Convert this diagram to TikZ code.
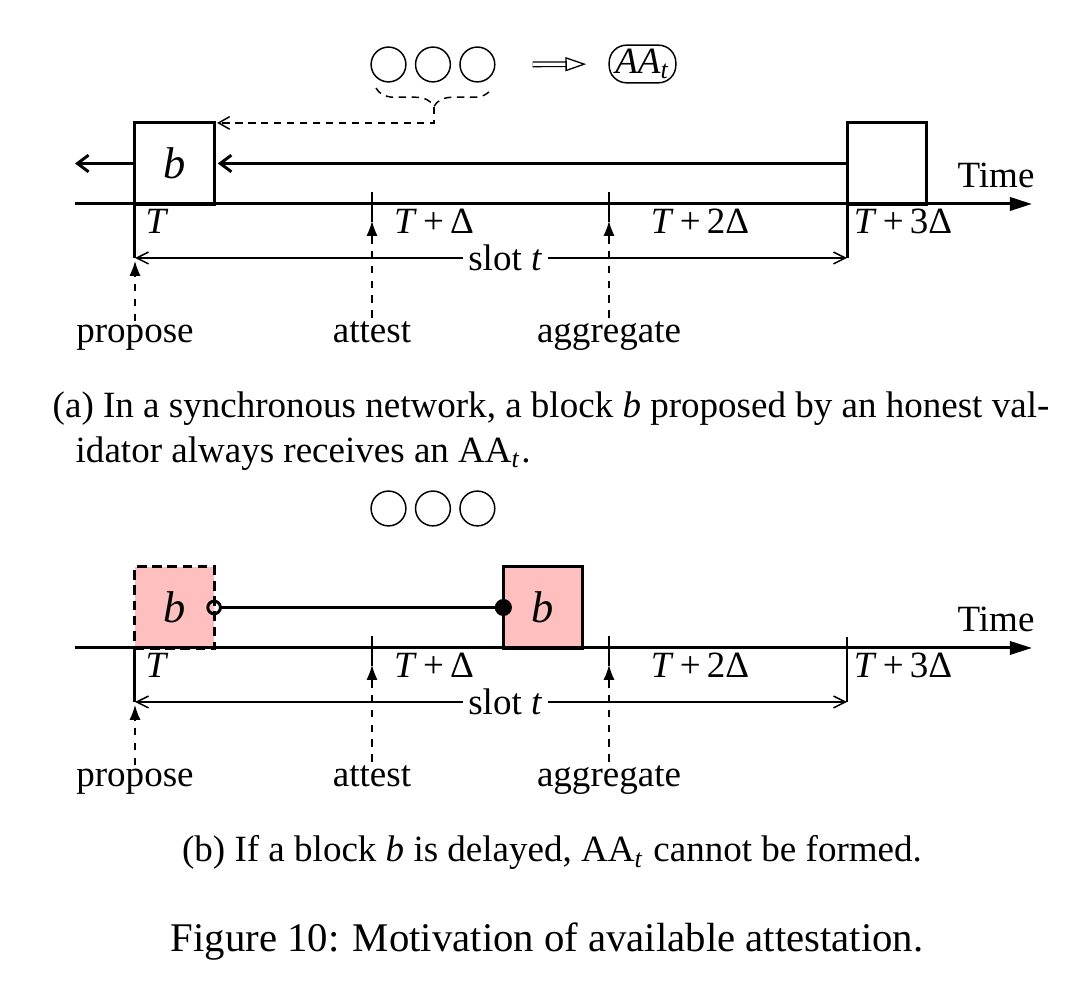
\documentclass[tikz,border=0pt]{standalone}
\usepackage{fontspec}
\setmainfont{Liberation Serif}
\usetikzlibrary{arrows.meta, positioning, decorations.pathreplacing}
\definecolor{BlockPink}{HTML}{FFBFBF}

\begin{document}
\begin{tikzpicture}[
    x=0.27pt, y=-0.27pt,
    blk/.style={draw, line width=0.8pt, minimum width=21.4pt, minimum height=21.9pt, inner sep=0pt, outer sep=0pt, font=\large\itshape},
    ghost/.style={blk, dash pattern=on 2.6pt off 1.5pt, fill=BlockPink},
    vote/.style={draw, circle, line width=0.4pt, minimum size=9.4pt, inner sep=0pt},
    aggr/.style={draw, rounded corners=4.7pt, line width=0.4pt, minimum width=18pt, minimum height=9.6pt, inner sep=1pt, font=\itshape},
    axis/.style={line width=0.8pt, -{Triangle[length=6pt, width=3.6pt]}},
    fwd/.style={line width=0.8pt, -{Straight Barb[length=3pt, width=4.5pt]}},
    tick/.style={line width=0.8pt},
    slot/.style={line width=0.4pt, {Straight Barb[length=3.2pt, width=3.2pt]}-{Straight Barb[length=3.2pt, width=3.2pt]}},
    duty/.style={line width=0.4pt, dash pattern=on 2pt off 2pt, -{Latex[length=4pt, width=3pt]}},
    notify/.style={line width=0.4pt, dash pattern=on 2pt off 1.5pt, -{Straight Barb[length=3pt, width=3.4pt]}},
    implies/.style={double, double distance=0.9pt, line width=0.35pt, -{Triangle[open, length=5.6pt, width=3.8pt]}},
    delay/.style={line width=0.8pt, {Circle[open, length=4.2pt]}-{Circle[length=4.6pt]}, shorten <=-2.1pt, shorten >=-2.3pt},
    lbl/.style={anchor=base, inner sep=1pt},
    captxt/.style={inner sep=0pt, align=left}
]
\useasboundingbox (0,0) rectangle (1080,981);

% (a) synchronous network
\node[vote] (va1) at (388.5,64.5) {};
\node[vote, right=2.2pt of va1] (va2) {};
\node[vote, right=2.2pt of va2] (va3) {};
\node[aggr] (aa) at (642.5,64) {AA\textsubscript{t}};
\draw[implies, shorten <=10pt, shorten >=6pt] (va3) -- (aa);
\draw[line width=0.4pt, dash pattern=on 2pt off 1.5pt, decorate, decoration={brace, mirror, amplitude=5pt}] (376,88) -- (492,88);
\coordinate (tipA) at (434,107);

\node[blk] (blkA) at (174.5,163.5) {b};
\node[blk] (nextA) at (887,163.5) {};
\coordinate (outA) at (75,163.5);
\draw[notify, shorten >=0.8pt] (tipA) |- (blkA.north east);
\draw[fwd, shorten >=1pt] (nextA.west) -- (blkA.east);
\draw[fwd] (blkA.west) -- (outA);

\coordinate (startA) at (75,204);
\coordinate (endA) at (1032,204);
\draw[axis] (startA) -- (endA);
\node[lbl] (timeA) at (996,188) {Time};

\coordinate (slotLa) at (135,258);
\coordinate (slotRa) at (847,258);
\draw[tick] (blkA.south west) -- (blkA.south west |- slotLa);
\draw[tick] (nextA.south west) -- (nextA.south west |- slotRa);
\draw[tick] (372,192) -- (372,222);
\draw[tick] (609,192) -- (609,222);
\draw[slot] (slotLa) -- node[pos=0.52, fill=white, inner sep=1.5pt] (slotA) {slot \textit{t}} (slotRa);

\node[lbl] at (157,234) {\textit{T}};
\node[lbl] at (434,234) {\textit{T}\,+\,Δ};
\node[lbl] at (700,234) {\textit{T}\,+\,2Δ};
\node[lbl] at (903,234) {\textit{T}\,+\,3Δ};

\node[lbl] (propA) at (135,343) {propose};
\node[lbl] (attA) at (372,343) {attest};
\node[lbl] (aggA) at (609,343) {aggregate};
\draw[duty] (propA) -- (135,261);
\draw[duty] (attA) -- (372,221);
\draw[duty] (aggA) -- (609,221);

\node[captxt, anchor=west] (capA) at (52,431) {(a) In a synchronous network, a block \textit{b} proposed by an honest val-\\\hspace*{6.2pt}idator always receives an AA\textsubscript{\textit{t}}.};

% (b) delayed block
\begin{scope}[shift={(0,444)}]
\node[vote] (vb1) at (388.5,64.5) {};
\node[vote, right=2.2pt of vb1] (vb2) {};
\node[vote, right=2.2pt of vb2] (vb3) {};

\node[ghost] (lateB) at (174.5,163.5) {b};
\node[blk, fill=BlockPink] (blkB) at (543,163.5) {b};
\draw[delay] (lateB.east) -- (blkB.west);

\coordinate (startB) at (75,204);
\coordinate (endB) at (1032,204);
\draw[axis] (startB) -- (endB);
\node[lbl] (timeB) at (996,188) {Time};

\coordinate (slotLb) at (135,258);
\coordinate (slotRb) at (847,258);
\draw[tick] (lateB.south west) -- (lateB.south west |- slotLb);
\draw[tick] (847,193) -- (slotRb);
\draw[tick] (372,192) -- (372,222);
\draw[tick] (609,192) -- (609,222);
\draw[slot] (slotLb) -- node[pos=0.52, fill=white, inner sep=1.5pt] (slotB) {slot \textit{t}} (slotRb);

\node[lbl] at (157,234) {\textit{T}};
\node[lbl] at (434,234) {\textit{T}\,+\,Δ};
\node[lbl] at (700,234) {\textit{T}\,+\,2Δ};
\node[lbl] at (903,234) {\textit{T}\,+\,3Δ};

\node[lbl] (propB) at (135,343) {propose};
\node[lbl] (attB) at (372,343) {attest};
\node[lbl] (aggB) at (609,343) {aggregate};
\draw[duty] (propB) -- (135,261);
\draw[duty] (attB) -- (372,221);
\draw[duty] (aggB) -- (609,221);
\end{scope}

\node[captxt, anchor=base] (capB) at (552,862) {(b) If a block \textit{b} is delayed, AA\textsubscript{\textit{t}} cannot be formed.};
\node[captxt, anchor=base, font=\fontsize{11}{13}\selectfont] (capFig) at (547,952) {Figure 10: Motivation of available attestation.};
\end{tikzpicture}
\end{document}
